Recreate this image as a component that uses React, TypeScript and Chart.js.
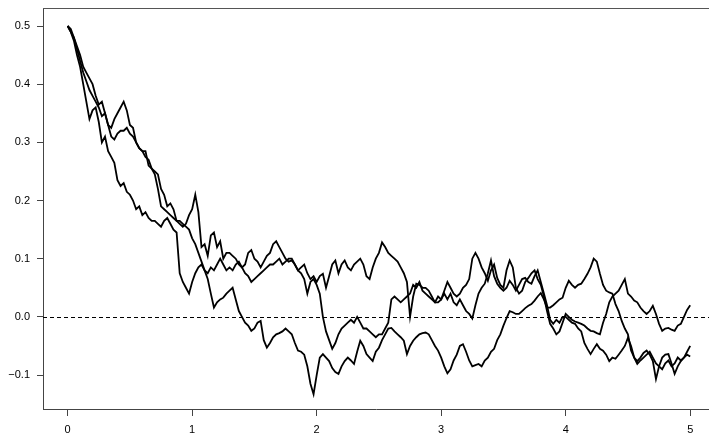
import { useEffect, useRef } from "react";
import { Chart, registerables } from "chart.js";

Chart.register(...registerables);

// sampling grid of the paths (time, 0 .. 5 in steps of 0.025)
const timeStep = 0.025;
const times: number[] = Array.from({ length: 201 }, (_, i) => Math.round(i * timeStep * 1000) / 1000);

const pathA: number[] = [
  0.50, 0.49, 0.475, 0.45, 0.43, 0.40, 0.37, 0.34, 0.355, 0.36,
  0.335, 0.30, 0.31, 0.285, 0.275, 0.265, 0.235, 0.225, 0.23, 0.215,
  0.21, 0.20, 0.185, 0.19, 0.175, 0.18, 0.17, 0.165, 0.165, 0.16,
  0.155, 0.165, 0.17, 0.16, 0.15, 0.145, 0.075, 0.06, 0.05, 0.04,
  0.06, 0.075, 0.085, 0.09, 0.08, 0.075, 0.085, 0.08, 0.09, 0.10,
  0.09, 0.08, 0.085, 0.08, 0.09, 0.095, 0.085, 0.075, 0.07, 0.06,
  0.065, 0.07, 0.075, 0.08, 0.085, 0.09, 0.09, 0.095, 0.10, 0.09,
  0.095, 0.10, 0.10, 0.09, 0.08, 0.075, 0.065, 0.04, 0.06, 0.065,
  0.055, 0.04, 0.0, -0.025, -0.04, -0.055, -0.045, -0.03, -0.02, -0.015,
  -0.01, -0.005, -0.01, 0.0, -0.01, -0.02, -0.02, -0.025, -0.03, -0.035,
  -0.03, -0.03, -0.02, -0.01, 0.03, 0.035, 0.03, 0.025, 0.03, 0.035,
  0.04, 0.055, 0.05, 0.06, 0.045, 0.04, 0.035, 0.03, 0.025, 0.035,
  0.03, 0.04, 0.03, 0.04, 0.025, 0.02, 0.03, 0.02, 0.01, 0.005,
  -0.003, 0.02, 0.04, 0.05, 0.057, 0.075, 0.097, 0.07, 0.057, 0.05,
  0.045, 0.05, 0.062, 0.055, 0.045, 0.055, 0.065, 0.067, 0.06, 0.057,
  0.07, 0.08, 0.06, 0.04, 0.02, -0.005, -0.012, -0.005, -0.01, 0.0,
  0.0, -0.005, -0.01, -0.012, -0.02, -0.025, -0.045, -0.055, -0.064, -0.055,
  -0.047, -0.055, -0.058, -0.065, -0.076, -0.07, -0.072, -0.065, -0.058, -0.05,
  -0.036, -0.05, -0.07, -0.081, -0.075, -0.07, -0.065, -0.06, -0.07, -0.08,
  -0.085, -0.09, -0.08, -0.075, -0.085, -0.08, -0.07, -0.075, -0.07, -0.065,
  -0.068,
];

const pathB: number[] = [
  0.50, 0.495, 0.48, 0.465, 0.45, 0.43, 0.42, 0.41, 0.40, 0.38,
  0.365, 0.37, 0.35, 0.33, 0.325, 0.34, 0.35, 0.36, 0.37, 0.355,
  0.33, 0.325, 0.30, 0.29, 0.285, 0.285, 0.26, 0.255, 0.25, 0.245,
  0.22, 0.21, 0.19, 0.195, 0.185, 0.165, 0.16, 0.155, 0.16, 0.175,
  0.185, 0.21, 0.18, 0.12, 0.125, 0.105, 0.14, 0.145, 0.12, 0.13,
  0.10, 0.11, 0.11, 0.105, 0.10, 0.09, 0.085, 0.09, 0.11, 0.115,
  0.10, 0.095, 0.085, 0.095, 0.105, 0.11, 0.125, 0.13, 0.12, 0.11,
  0.10, 0.095, 0.097, 0.09, 0.08, 0.085, 0.09, 0.075, 0.065, 0.07,
  0.06, 0.07, 0.074, 0.05, 0.07, 0.09, 0.097, 0.075, 0.09, 0.097,
  0.085, 0.08, 0.09, 0.095, 0.10, 0.09, 0.07, 0.065, 0.085, 0.10,
  0.11, 0.128, 0.12, 0.11, 0.105, 0.10, 0.095, 0.085, 0.075, 0.06,
  0.0, 0.035, 0.057, 0.055, 0.05, 0.05, 0.045, 0.035, 0.025, 0.025,
  0.03, 0.045, 0.06, 0.05, 0.04, 0.035, 0.04, 0.05, 0.055, 0.065,
  0.10, 0.11, 0.10, 0.085, 0.075, 0.062, 0.08, 0.09, 0.067, 0.055,
  0.05, 0.08, 0.097, 0.085, 0.05, 0.04, 0.045, 0.06, 0.067, 0.075,
  0.08, 0.065, 0.055, 0.035, 0.01, -0.012, -0.02, -0.03, -0.025, -0.01,
  0.005, 0.0, -0.005, -0.008, -0.01, -0.012, -0.015, -0.02, -0.024, -0.025,
  -0.028, -0.03, -0.01, 0.005, 0.025, 0.035, 0.04, 0.045, 0.055, 0.065,
  0.04, 0.035, 0.028, 0.025, 0.016, 0.01, 0.005, 0.01, 0.019, 0.005,
  -0.012, -0.024, -0.02, -0.019, -0.022, -0.024, -0.015, -0.012, 0.0, 0.012,
  0.02,
];

const pathC: number[] = [
  0.50, 0.49, 0.48, 0.46, 0.44, 0.42, 0.405, 0.39, 0.38, 0.37,
  0.36, 0.345, 0.35, 0.33, 0.31, 0.305, 0.315, 0.32, 0.32, 0.325,
  0.315, 0.31, 0.30, 0.29, 0.285, 0.275, 0.27, 0.255, 0.245, 0.22,
  0.19, 0.185, 0.18, 0.175, 0.17, 0.165, 0.165, 0.16, 0.155, 0.15,
  0.135, 0.125, 0.11, 0.095, 0.08, 0.065, 0.04, 0.016, 0.025, 0.03,
  0.033, 0.04, 0.045, 0.05, 0.03, 0.01, 0.0, -0.01, -0.015, -0.024,
  -0.02, -0.01, -0.007, -0.04, -0.053, -0.045, -0.035, -0.03, -0.028, -0.025,
  -0.02, -0.025, -0.03, -0.045, -0.058, -0.06, -0.065, -0.085, -0.115, -0.133,
  -0.1, -0.07, -0.064, -0.07, -0.076, -0.088, -0.095, -0.098, -0.085, -0.076,
  -0.07, -0.075, -0.081, -0.06, -0.041, -0.05, -0.064, -0.07, -0.076, -0.06,
  -0.053, -0.04, -0.03, -0.02, -0.019, -0.025, -0.03, -0.035, -0.041, -0.064,
  -0.05, -0.041, -0.035, -0.03, -0.028, -0.027, -0.03, -0.04, -0.05, -0.058,
  -0.07, -0.085, -0.097, -0.09, -0.075, -0.065, -0.05, -0.047, -0.06, -0.075,
  -0.085, -0.083, -0.081, -0.085, -0.075, -0.07, -0.06, -0.055, -0.04, -0.03,
  -0.015, -0.002, 0.01, 0.008, 0.005, 0.005, 0.01, 0.015, 0.019, 0.022,
  0.028, 0.035, 0.041, 0.03, 0.016, 0.016, 0.02, 0.025, 0.03, 0.033,
  0.05, 0.062, 0.055, 0.05, 0.055, 0.057, 0.065, 0.074, 0.085, 0.10,
  0.095, 0.074, 0.055, 0.045, 0.042, 0.04, 0.022, 0.01, -0.007, -0.02,
  -0.03, -0.058, -0.07, -0.076, -0.07, -0.062, -0.058, -0.065, -0.076, -0.107,
  -0.085, -0.07, -0.065, -0.064, -0.08, -0.098, -0.085, -0.076, -0.07, -0.06,
  -0.05,
];

const xTicks: number[] = [0, 1, 2, 3, 4, 5];
const yTicks: number[] = [-0.1, 0.0, 0.1, 0.2, 0.3, 0.4, 0.5];
const referenceLevel = 0;

const FONT = "'Liberation Sans', Arial, Helvetica, sans-serif";

const framePlugin = {
  id: "frame",
  beforeDatasetsDraw(chart: any) {
    const { ctx, chartArea, scales } = chart;
    const y = Math.round(scales.y.getPixelForValue(referenceLevel)) + 0.5;
    ctx.save();
    ctx.strokeStyle = "#000";
    ctx.lineWidth = 1;
    ctx.setLineDash([4, 3]);
    ctx.beginPath();
    ctx.moveTo(chartArea.left, y);
    ctx.lineTo(chartArea.right, y);
    ctx.stroke();
    ctx.restore();
  },
  afterDraw(chart: any) {
    const { ctx, chartArea } = chart;
    const y = Math.round(chartArea.top) + 0.5;
    ctx.save();
    ctx.strokeStyle = "#555";
    ctx.lineWidth = 1;
    ctx.beginPath();
    ctx.moveTo(chartArea.left, y);
    ctx.lineTo(chartArea.right, y);
    ctx.stroke();
    ctx.restore();
  },
};

function toPoints(values: number[]) {
  return values.map((v, i) => ({ x: times[i], y: v }));
}

export default function App() {
  const ref = useRef<HTMLCanvasElement>(null);

  useEffect(() => {
    if (!ref.current) return;
    const series = [pathA, pathB, pathC];
    const chart = new Chart(ref.current, {
      type: "line",
      data: {
        datasets: series.map((s, i) => ({
          label: "path " + (i + 1),
          data: toPoints(s),
          borderColor: "#000",
          borderWidth: 1.8,
          pointRadius: 0,
          tension: 0,
          fill: false,
        })),
      },
      options: {
        animation: false,
        responsive: false,
        devicePixelRatio: 1,
        layout: { padding: { top: 8, left: 0, right: 0, bottom: 0 } },
        plugins: {
          legend: { display: false },
          tooltip: { enabled: false },
        },
        scales: {
          x: {
            type: "linear",
            min: -0.198,
            max: 5.151,
            afterBuildTicks: (s: any) => {
              s.ticks = xTicks.map((v) => ({ value: v }));
            },
            afterFit: (s: any) => {
              s.height = 24;
              s.paddingLeft = 0;
              s.paddingRight = 0;
            },
            grid: {
              display: true,
              drawOnChartArea: false,
              drawTicks: true,
              tickLength: 7,
              color: "#444",
            },
            border: { display: true, color: "#444", width: 1 },
            ticks: {
              color: "#000",
              font: { family: FONT, size: 11 },
              padding: 7,
              maxRotation: 0,
              autoSkip: false,
              callback: (v: any) => String(v),
            },
          },
          y: {
            type: "linear",
            min: -0.1584,
            max: 0.531,
            afterBuildTicks: (s: any) => {
              s.ticks = yTicks.map((v) => ({ value: v }));
            },
            afterFit: (s: any) => {
              s.width = 43;
              s.paddingTop = 0;
              s.paddingBottom = 0;
            },
            grid: {
              display: true,
              drawOnChartArea: false,
              drawTicks: true,
              tickLength: 6,
              color: "#444",
            },
            border: { display: true, color: "#444", width: 1 },
            ticks: {
              color: "#000",
              font: { family: FONT, size: 11 },
              padding: 7,
              autoSkip: false,
              callback: (v: any) => {
                const n = Number(v);
                return (n < -1e-9 ? "\u2212" : "") + Math.abs(n).toFixed(1);
              },
            },
          },
        },
      },
      plugins: [framePlugin],
    });
    return () => chart.destroy();
  }, []);

  return (
    <canvas
      ref={ref}
      width={709}
      height={433}
      style={{ position: "absolute", left: 0, top: 0, width: 709, height: 433, display: "block" }}
    />
  );
}
